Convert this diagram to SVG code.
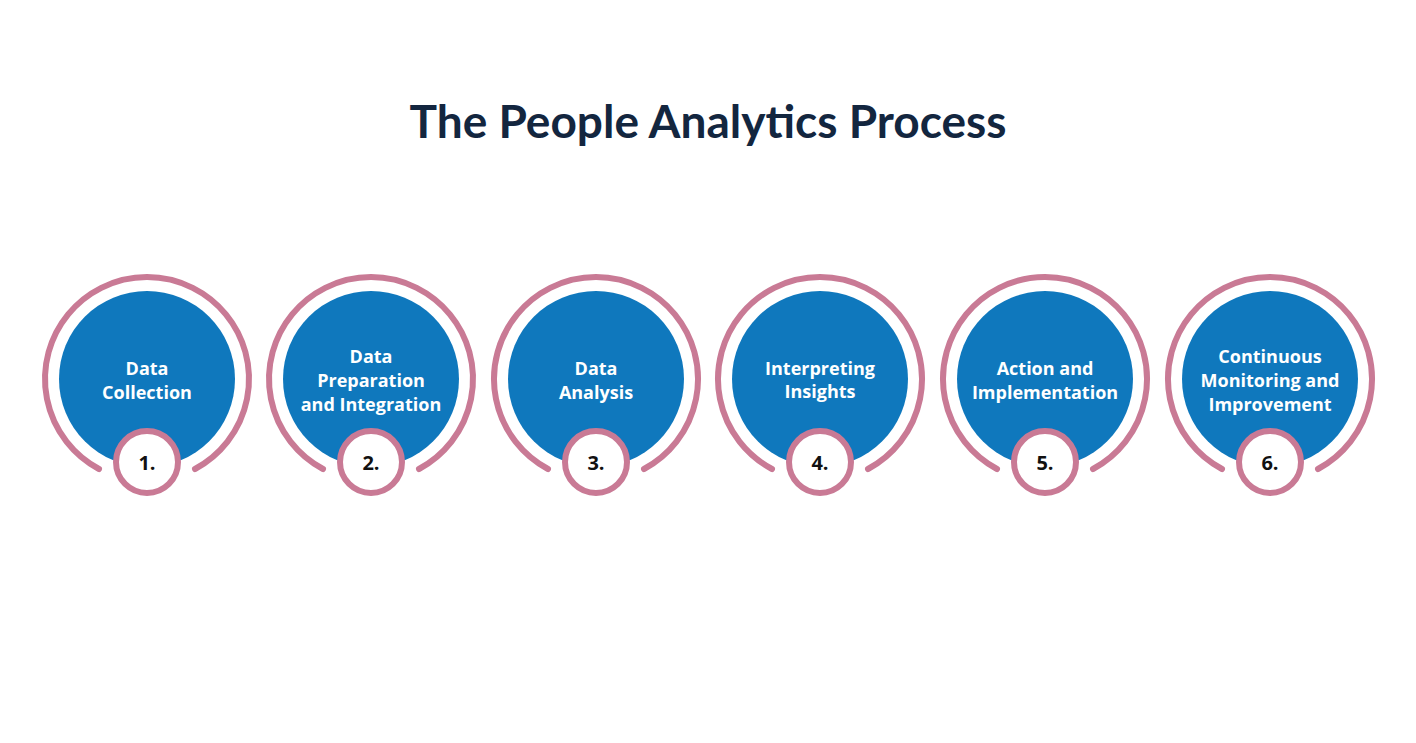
<svg xmlns="http://www.w3.org/2000/svg" width="1416" height="743" viewBox="0 0 1416 743">
<style>
.ring{fill:none;stroke:#c97a95;stroke-width:6;stroke-linecap:round}
.blue{fill:#0f78bd}
.num{fill:#fff;stroke:#c97a95;stroke-width:6}
.lbl{fill:#fff;font-family:"Open Sans","Liberation Sans",sans-serif;font-weight:700;font-size:18px;text-anchor:middle}
.n{fill:#111;font-family:"Open Sans","Liberation Sans",sans-serif;font-weight:700;font-size:20px;text-anchor:middle}
</style>
<defs>
<g id="node">
<path class="ring" d="M-48,90 A102,102 0 1 1 48,90"/>
<circle class="blue" r="88"/>
<circle class="num" cy="83" r="31"/>
</g>
</defs>
<rect width="1416" height="743" fill="#fff"/>
<text x="708" y="138" text-anchor="middle" font-family="Lato,'Liberation Sans',sans-serif" font-weight="700" font-size="46" fill="#13263f">The People Analytics Process</text>
<g id="connectors"/>
<g id="n1" transform="translate(147,379)"><use href="#node"/><text class="lbl" y="-4">Data</text><text class="lbl" y="20">Collection</text><text class="n" y="91">1.</text></g>
<g id="n2" transform="translate(371,379)"><use href="#node"/><text class="lbl" y="-16">Data</text><text class="lbl" y="8">Preparation</text><text class="lbl" y="32">and Integration</text><text class="n" y="91">2.</text></g>
<g id="n3" transform="translate(596,379)"><use href="#node"/><text class="lbl" y="-4">Data</text><text class="lbl" y="20">Analysis</text><text class="n" y="91">3.</text></g>
<g id="n4" transform="translate(820,379)"><use href="#node"/><text class="lbl" y="-4" font-size="17">Interpreting</text><text class="lbl" y="19" font-size="17">Insights</text><text class="n" y="91">4.</text></g>
<g id="n5" transform="translate(1045,379)"><use href="#node"/><text class="lbl" y="-4">Action and</text><text class="lbl" y="20">Implementation</text><text class="n" y="91">5.</text></g>
<g id="n6" transform="translate(1270,379)"><use href="#node"/><text class="lbl" y="-16">Continuous</text><text class="lbl" y="8">Monitoring and</text><text class="lbl" y="32">Improvement</text><text class="n" y="91">6.</text></g>
</svg>
